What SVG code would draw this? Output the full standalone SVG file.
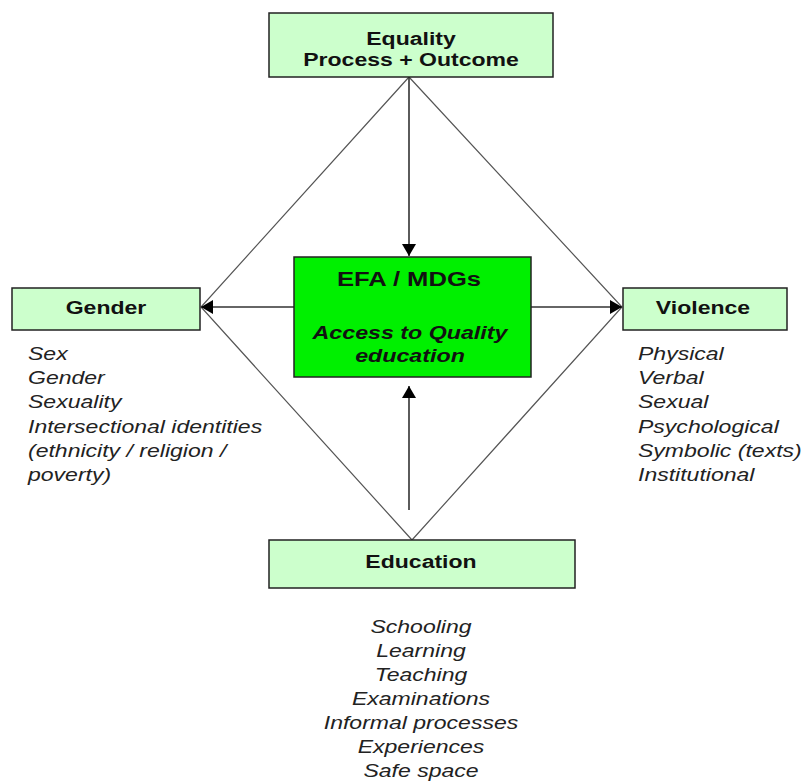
<svg xmlns="http://www.w3.org/2000/svg" width="807" height="783" viewBox="0 0 807 783">
<style>
.box{fill:#ccffcc;stroke:#222;stroke-width:1.5}
.core{fill:#00f000;stroke:#222;stroke-width:1.5}
.h{font-family:"Liberation Sans",Arial,sans-serif;font-weight:bold;font-size:18px;fill:#111;text-anchor:middle}
.it{font-family:"Liberation Sans",Arial,sans-serif;font-style:italic;font-size:18px;fill:#222}
.dia{stroke:#555;stroke-width:1.2;fill:none}
.arr{stroke:#333;stroke-width:1.6;fill:none;marker-end:url(#ah)}
</style>
<defs>
<marker id="ah" viewBox="0 0 10 10" refX="10" refY="5" markerWidth="8" markerHeight="8" markerUnits="userSpaceOnUse" orient="auto">
<path d="M0,0 L10,5 L0,10 z" fill="#000"/>
</marker>
<marker id="ah2" viewBox="0 0 12 14" refX="12" refY="7" markerWidth="12" markerHeight="14" markerUnits="userSpaceOnUse" orient="auto">
<path d="M0,0 L12,7 L0,14 z" fill="#000"/>
</marker>
</defs>
<rect width="807" height="783" fill="#fff"/>
<g id="connectors">
<polyline class="dia" points="409,77 201,307 412,540 622,307 409,77"/>
<line x1="409" y1="77" x2="409" y2="256" stroke="#333" stroke-width="1.6" marker-end="url(#ah2)"/>
<line x1="409" y1="510" x2="409" y2="386" stroke="#333" stroke-width="1.6" marker-end="url(#ah2)"/>
<line x1="294" y1="307" x2="201" y2="307" stroke="#333" stroke-width="1.6" marker-end="url(#ah2)"/>
<line x1="531" y1="307" x2="622" y2="307" stroke="#333" stroke-width="1.6" marker-end="url(#ah2)"/>
</g>
<g id="equality">
<rect class="box" x="269" y="13" width="284" height="64"/>
<text class="h" transform="translate(411,45) scale(1.28,1)">Equality</text>
<text class="h" transform="translate(411,66) scale(1.28,1)">Process + Outcome</text>
</g>
<g id="efa">
<rect class="core" x="294" y="257" width="237" height="120"/>
<text class="h" style="font-size:21px" transform="translate(409,286) scale(1.22,1)">EFA / MDGs</text>
<text class="h" style="font-style:italic" transform="translate(410,339) scale(1.29,1)">Access to Quality</text>
<text class="h" style="font-style:italic" transform="translate(410,362) scale(1.29,1)">education</text>
</g>
<g id="gender">
<rect class="box" x="12" y="288" width="188" height="42"/>
<text class="h" transform="translate(106,314) scale(1.28,1)">Gender</text>
<g transform="translate(28,0) scale(1.28,1)">
<text class="it" x="0" y="360">Sex</text>
<text class="it" x="0" y="384">Gender</text>
<text class="it" x="0" y="408">Sexuality</text>
<text class="it" x="0" y="433">Intersectional identities</text>
<text class="it" x="0" y="457">(ethnicity / religion /</text>
<text class="it" x="0" y="481">poverty)</text>
</g>
</g>
<g id="violence">
<rect class="box" x="623" y="288" width="164" height="42"/>
<text class="h" transform="translate(703,314) scale(1.28,1)">Violence</text>
<g transform="translate(638,0) scale(1.28,1)">
<text class="it" x="0" y="360">Physical</text>
<text class="it" x="0" y="384">Verbal</text>
<text class="it" x="0" y="408">Sexual</text>
<text class="it" x="0" y="433">Psychological</text>
<text class="it" x="0" y="457">Symbolic (texts)</text>
<text class="it" x="0" y="481">Institutional</text>
</g>
</g>
<g id="education">
<rect class="box" x="269" y="540" width="306" height="48"/>
<text class="h" transform="translate(421,568) scale(1.28,1)">Education</text>
<g transform="translate(421,0) scale(1.28,1)" text-anchor="middle">
<text class="it" x="0" y="633">Schooling</text>
<text class="it" x="0" y="657">Learning</text>
<text class="it" x="0" y="681">Teaching</text>
<text class="it" x="0" y="705">Examinations</text>
<text class="it" x="0" y="729">Informal processes</text>
<text class="it" x="0" y="753">Experiences</text>
<text class="it" x="0" y="777">Safe space</text>
</g>
</g>
</svg>
